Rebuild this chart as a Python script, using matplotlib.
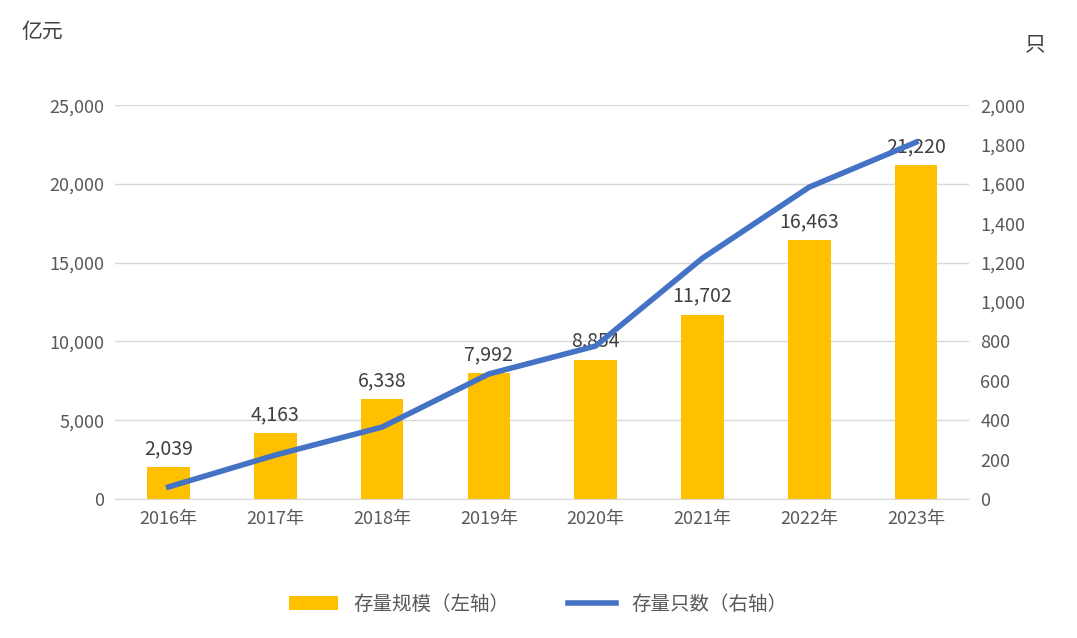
import matplotlib.pyplot as plt

plt.rcParams["font.family"] = ["Noto Sans CJK SC", "Noto Sans CJK JP", "Noto Sans CJK TC", "DejaVu Sans"]

years = ["2016年", "2017年", "2018年", "2019年", "2020年", "2021年", "2022年", "2023年"]
scale = [2039, 4163, 6338, 7992, 8854, 11702, 16463, 21220]
count = [61, 223, 365, 635, 777, 1223, 1584, 1812]

fig = plt.figure(figsize=(10.77, 6.38), dpi=100)
ax = fig.add_axes([0.107, 0.218, 0.793, 0.617])
ax2 = ax.twinx()

x = range(len(years))
ax.bar(x, scale, width=0.4, color="#FFC000", label="存量规模（左轴）", zorder=2)
ax2.plot(x, count, color="#4472C4", lw=4, label="存量只数（右轴）", zorder=3)

for i, v in enumerate(scale):
    ax.text(i, v + 500, f"{v:,}", ha="center", va="bottom", fontsize=14, color="#404040")

ax.set_ylim(0, 25000)
ax.set_yticks(range(0, 25001, 5000))
ax.set_yticklabels([f"{t:,}" for t in range(0, 25001, 5000)])
ax2.set_ylim(0, 2000)
ax2.set_yticks(range(0, 2001, 200))
ax2.set_yticklabels([f"{t:,}" for t in range(0, 2001, 200)])
ax.set_xticks(list(x))
ax.set_xticklabels(years)
ax.set_xlim(-0.5, len(years) - 0.5)

ax.grid(axis="y", color="#D9D9D9", lw=1, zorder=0)
for a in (ax, ax2):
    for s in a.spines.values():
        s.set_visible(False)
    a.tick_params(length=0, labelsize=13, colors="#595959", pad=8)
ax.spines["bottom"].set_visible(True)
ax.spines["bottom"].set_color("#D9D9D9")

fig.text(0.02, 0.95, "亿元", fontsize=15, color="#404040", va="center")
fig.text(0.952, 0.93, "只", fontsize=15, color="#404040", va="center")

h1, l1 = ax.get_legend_handles_labels()
h2, l2 = ax2.get_legend_handles_labels()
fig.legend(h1 + h2, l1 + l2, loc="center", bbox_to_anchor=(0.5, 0.053), ncol=2,
           frameon=False, fontsize=14, labelcolor="#595959", columnspacing=3, handlelength=2.5)

fig.savefig("out.png")
